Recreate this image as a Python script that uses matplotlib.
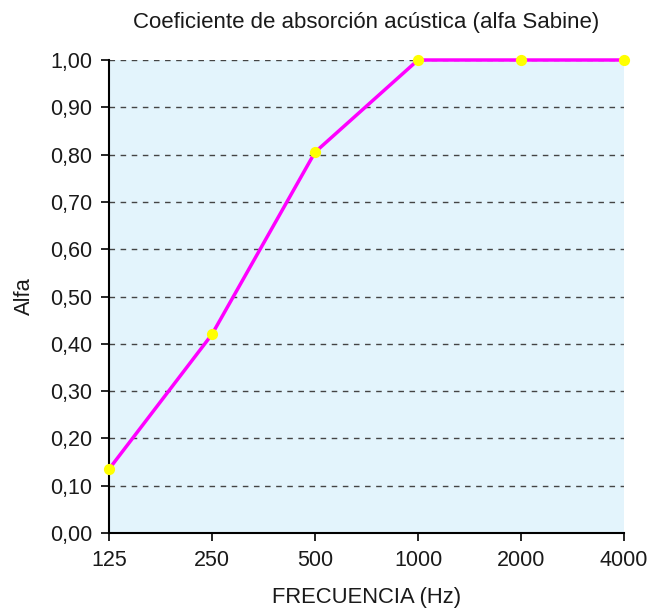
import matplotlib
matplotlib.use("Agg")
import matplotlib.pyplot as plt

categories = ["125", "250", "500", "1000", "2000", "4000"]
alpha_values = [0.135, 0.42, 0.805, 1.00, 1.00, 1.00]
y_ticks = [0.0, 0.1, 0.2, 0.3, 0.4, 0.5, 0.6, 0.7, 0.8, 0.9, 1.0]
y_tick_labels = ["0,00", "0,10", "0,20", "0,30", "0,40", "0,50", "0,60", "0,70", "0,80", "0,90", "1,00"]

plt.rcParams['font.family'] = ['Liberation Sans', 'DejaVu Sans']

fig = plt.figure(figsize=(6.59, 6.09), dpi=100)
ax = fig.add_axes([109/659, 1 - 533/609, (624-109)/659, (533-60)/609])
ax.set_facecolor('#e3f4fc')

x = list(range(len(categories)))
ax.plot(x, alpha_values, color='#ff00ff', linewidth=2.5, zorder=3, clip_on=False)
ax.scatter(x, alpha_values, s=65, color='#ffff00', zorder=4, clip_on=False, linewidths=0)

ax.set_xlim(0, len(categories) - 1)
ax.set_ylim(0, 1.0)
ax.set_xticks(x)
ax.set_xticklabels(categories, fontsize=15.5)
ax.set_yticks(y_ticks)
ax.set_yticklabels(y_tick_labels, fontsize=15.5)

for yv in y_ticks[1:]:
    ax.axhline(yv, color='#444444', linestyle=(0, (4, 4)), linewidth=1, zorder=1)

ax.spines['top'].set_visible(False)
ax.spines['right'].set_visible(False)
ax.spines['left'].set_linewidth(1.5)
ax.spines['bottom'].set_linewidth(1.5)
ax.tick_params(axis='both', direction='out', length=6, width=1.2, colors='black', labelcolor='#1a1a1a')
ax.tick_params(axis='y', pad=6)
ax.tick_params(axis='x', pad=6)

ax.set_title("Coeficiente de absorción acústica (alfa Sabine)", fontsize=16, pad=23, color='#1a1a1a')
ax.set_xlabel("FRECUENCIA (Hz)", fontsize=15.8, labelpad=12, color='#1a1a1a')
ax.set_ylabel("Alfa", fontsize=15.8, labelpad=11, color='#1a1a1a')

fig.savefig("out.png", dpi=100)
